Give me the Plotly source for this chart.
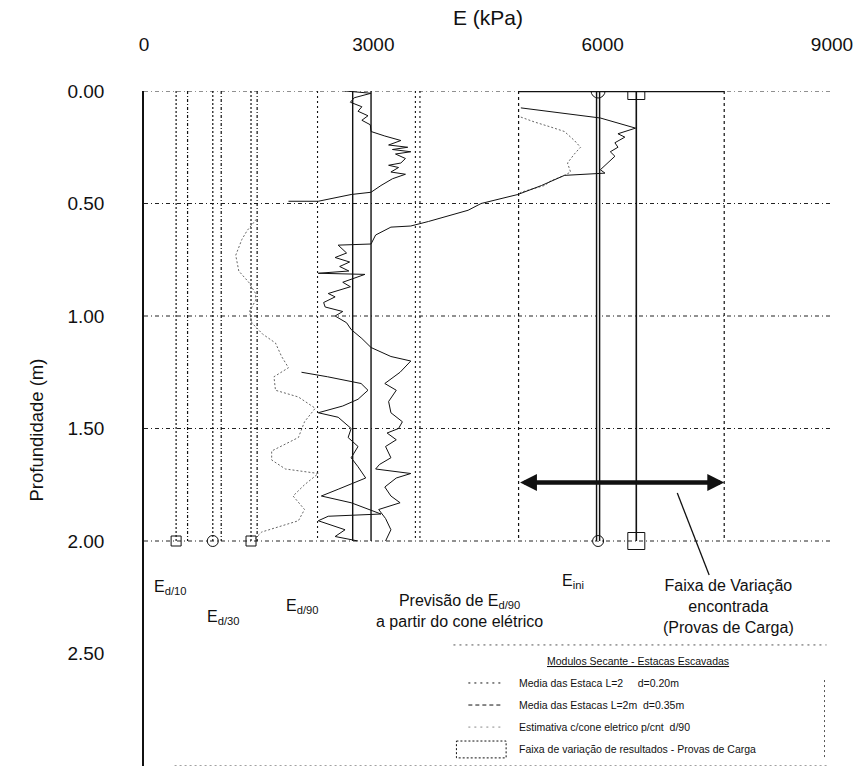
import plotly.graph_objects as go

FONT = "Liberation Sans, Arial, Helvetica, sans-serif"

# ---- axes -------------------------------------------------------------
E_TICKS = [0, 3000, 6000, 9000]
DEPTH_TICKS = [0.0, 0.5, 1.0, 1.5, 2.0, 2.5, 3.0]
GRID_DEPTHS = [0.0, 0.5, 1.0, 1.5, 2.0]
E_MAX = 9000
DEPTH_MAX = 3.0
PILE_LENGTH = 2.0

# ---- mean secant moduli of the bored piles (kPa): Ed/10, Ed/30, Ed/90, Eini
pile_d020 = [420, 900, 1400, 5940]
pile_d035 = [570, 1010, 1480, 6440]

# ---- Ed/90 predicted from the electric cone (kPa)
cone_mean = [2730, 2970]
cone_band = [2270, 3550, 3610]

# ---- range found in the load tests (kPa)
load_test_range = [4900, 7590]
load_test_depth = 1.74

# ---- cone profiles (depth in m, modulus in kPa)
cptA_depth = [0.00, 0.01, 0.03, 0.05, 0.07, 0.09, 0.11, 0.13, 0.15, 0.18, 0.20,
              0.22, 0.24, 0.25, 0.26, 0.27, 0.28, 0.30, 0.32, 0.33, 0.34, 0.36,
              0.37, 0.39, 0.42, 0.45, 0.46, 0.49, 0.49]
cptA_E = [2630, 2970, 2750, 2700, 2850, 2800, 2930, 2850, 2960, 2970, 3150,
          3360, 3200, 3450, 3250, 3490, 3290, 3420, 3360, 3200, 3330, 3230,
          3420, 3250, 3100, 2970, 2710, 2280, 1890]

cptB_depth = [0.075, 0.12, 0.165, 0.19, 0.205, 0.23, 0.25, 0.27, 0.29, 0.32,
              0.35, 0.365, 0.375, 0.42, 0.46, 0.50, 0.53, 0.58, 0.59, 0.60,
              0.605, 0.64, 0.68, 0.685, 0.72, 0.74, 0.76, 0.78, 0.80, 0.81,
              0.815, 0.85, 0.87, 0.90, 0.915, 0.94, 0.96, 0.98, 1.00, 1.03,
              1.06, 1.10, 1.14, 1.16, 1.18, 1.20, 1.25, 1.30, 1.33, 1.38,
              1.43, 1.47, 1.50, 1.52, 1.55, 1.58, 1.63, 1.66, 1.68, 1.70,
              1.72, 1.76, 1.80, 1.83, 1.86, 1.90, 1.95, 2.00]
cptB_E = [4930, 5970, 6430, 6200, 6290, 6160, 6200, 6100, 6160, 6070,
          5970, 6030, 5500, 5200, 4890, 4410, 4240, 3720, 3590, 3490,
          3230, 3030, 2970, 2540, 2650, 2500, 2690, 2560, 2680, 2280,
          2890, 2600, 2700, 2410, 2500, 2350, 2370, 2600, 2500, 2650,
          2710, 2850, 2970, 3100, 3230, 3490, 3350, 3150, 3300, 3200,
          3230, 3380, 3330, 3180, 3300, 3160, 3230, 3080, 3030, 3490,
          3300, 3150, 3230, 3350, 3070, 3160, 3230, 3160]

cptC_depth = [1.25, 1.27, 1.30, 1.33, 1.37, 1.40, 1.43, 1.45, 1.50, 1.54, 1.58,
              1.63, 1.67, 1.72, 1.77, 1.80, 1.83, 1.88, 1.89, 1.91, 1.95, 1.98,
              2.00]
cptC_E = [2060, 2400, 2840, 2930, 2800, 2600, 2280, 2540, 2710, 2670, 2800,
          2710, 2800, 2900, 2540, 2320, 2710, 3100, 2410, 2280, 2630, 2500,
          2800]

# light profile, two separate stretches (None = gap)
cptD_depth = [0.116, 0.138, 0.16, 0.18, 0.22, 0.25, 0.28, 0.30, 0.32, 0.36,
              0.375, 0.40, 0.42, 0.45, 0.46, None,
              0.57, 0.62, 0.66, 0.73, 0.80, 0.85, 0.90, 0.93, 0.98, 1.03,
              1.08, 1.12, 1.18, 1.23, 1.27, 1.33, 1.36, 1.41, 1.47, 1.54,
              1.60, 1.64, 1.68, 1.70, 1.75, 1.80, 1.86, 1.91, 1.96, 1.99]
cptD_E = [4930, 5110, 5320, 5500, 5630, 5710, 5630, 5580, 5540, 5580,
          5500, 5320, 5240, 4930, 4890, None,
          1470, 1350, 1280, 1200, 1240, 1370, 1460, 1460, 1380, 1410,
          1550, 1720, 1800, 1890, 1700, 1720, 2020, 2240, 2100, 2020,
          1670, 1670, 1850, 2280, 2100, 1950, 2100, 2020, 1540, 1450]

INK = "#111111"


def vlines(xs, y0, y1):
    x, y = [], []
    for v in xs:
        x += [v, v, None]
        y += [y0, y1, None]
    return x, y


def hlines(ys, x0, x1):
    x, y = [], []
    for v in ys:
        x += [x0, x1, None]
        y += [v, v, None]
    return x, y


fig = go.Figure()


def add_line(x, y, color=INK, width=1.0, dash="solid"):
    fig.add_trace(go.Scatter(x=x, y=y, mode="lines", hoverinfo="skip",
                             line=dict(color=color, width=width, dash=dash),
                             showlegend=False, connectgaps=False))


# horizontal reference lines
gx, gy = hlines(GRID_DEPTHS, 0, E_MAX)
add_line(gx, gy, color="#222222", width=1.0, dash="4px,3px,1px,3px")
gx, gy = hlines([DEPTH_MAX], 400, 8930)
add_line(gx, gy, color="#444444", width=1.0, dash="2px,3px")

# mean pile moduli (Ed/10, Ed/30, Ed/90 dotted; Eini solid)
vx, vy = vlines(pile_d020[:3], 0, PILE_LENGTH)
add_line(vx, vy, width=1.2, dash="2px,2px")
vx, vy = vlines(pile_d035[:3], 0, PILE_LENGTH)
add_line(vx, vy, width=1.2, dash="3px,2px,1px,2px")
vx, vy = vlines(pile_d020[3:], 0, PILE_LENGTH)
add_line(vx, vy, width=4.5)
add_line(vx, vy, color="white", width=1.6)
vx, vy = vlines(pile_d035[3:], 0, PILE_LENGTH)
add_line(vx, vy, width=1.6)

# cone prediction: mean lines and band
vx, vy = vlines(cone_mean, 0, PILE_LENGTH)
add_line(vx, vy, width=1.4)
vx, vy = vlines(cone_band, 0, PILE_LENGTH)
add_line(vx, vy, width=1.1, dash="2px,3px")

# load-test range box
vx, vy = vlines(load_test_range, 0, PILE_LENGTH)
add_line(vx, vy, width=1.2, dash="3px,3px")
add_line(load_test_range, [0, 0], width=2.4)

# cone profiles
add_line(cptD_E, cptD_depth, color="#666666", width=1.0, dash="2px,2px")
add_line(cptA_E, cptA_depth, width=1.0)
add_line(cptB_E, cptB_depth, width=1.0)
add_line(cptC_E, cptC_depth, width=1.0)

# end markers on the mean lines
sq_x = [pile_d020[0], pile_d020[2]]
fig.add_trace(go.Scatter(x=sq_x, y=[PILE_LENGTH] * len(sq_x), mode="markers",
                         marker=dict(symbol="square-open", size=10,
                                     color=INK, line=dict(width=1)),
                         hoverinfo="skip", showlegend=False))
fig.add_trace(go.Scatter(x=[pile_d020[1], pile_d020[3]],
                         y=[PILE_LENGTH, PILE_LENGTH], mode="markers",
                         marker=dict(symbol="circle-open", size=11,
                                     color=INK, line=dict(width=1)),
                         hoverinfo="skip", showlegend=False))
fig.add_trace(go.Scatter(x=[pile_d020[3]], y=[0.0], mode="markers",
                         marker=dict(symbol="circle-open", size=14,
                                     color=INK, line=dict(width=1)),
                         hoverinfo="skip", showlegend=False))
fig.add_trace(go.Scatter(x=[pile_d035[3], pile_d035[3]], y=[0.0, PILE_LENGTH],
                         mode="markers",
                         marker=dict(symbol="square-open", size=17,
                                     color=INK, line=dict(width=1)),
                         hoverinfo="skip", showlegend=False))

annotations = []
shapes = []

# load-test range arrow
annotations.append(dict(x=load_test_range[1], y=load_test_depth,
                        ax=load_test_range[0], ay=load_test_depth,
                        xref="x", yref="y", axref="x", ayref="y",
                        text="", showarrow=True, arrowhead=2,
                        arrowside="end+start", arrowsize=0.75,
                        arrowwidth=4.5, arrowcolor=INK, standoff=0,
                        startstandoff=0))
shapes.append(dict(type="line", xref="x", yref="y", x0=6976, y0=1.787,
                   x1=7393, y1=2.151, line=dict(color=INK, width=1.3)))

lab_font = dict(family=FONT, size=16, color=INK)
annotations += [
    dict(x=104, y=2.205, text="E<sub>d/10</sub>", xanchor="left"),
    dict(x=794, y=2.338, text="E<sub>d/30</sub>", xanchor="left"),
    dict(x=1835, y=2.293, text="E<sub>d/90</sub>", xanchor="left"),
    dict(x=4126, y=2.313,
         text="Previsão de E<sub>d/90</sub><br>a partir do cone elétrico",
         xanchor="center"),
    dict(x=5440, y=2.182, text="E<sub>ini</sub>", xanchor="left"),
    dict(x=7640, y=2.293,
         text="Faixa de Variação<br>encontrada<br>(Provas de Carga)",
         xanchor="center"),
]
for a in annotations[-6:]:
    a.update(xref="x", yref="y", showarrow=False, font=lab_font,
             yanchor="middle")

# legend block
leg_font = dict(family=FONT, size=10.5, color=INK)
leg_rows = [2.631, 2.729, 2.827, 2.924]
leg_text = ["Media das Estaca L=2\u00a0\u00a0\u00a0\u00a0 d=0.20m",
            "Media das Estacas L=2m\u00a0 d=0.35m",
            "Estimativa c/cone eletrico p/cnt\u00a0 d/90",
            "Faixa de variação de resultados - Provas de Carga"]
annotations.append(dict(x=6468, y=2.533, xref="x", yref="y",
                        text="<u>Modulos Secante - Estacas Escavadas</u>",
                        showarrow=False, font=leg_font, xanchor="center",
                        yanchor="middle"))
for yy, tt in zip(leg_rows, leg_text):
    annotations.append(dict(x=4881, y=yy, xref="x", yref="y", text=tt,
                            showarrow=False, font=leg_font, xanchor="left",
                            yanchor="middle"))
leg_styles = [("2px,4px", INK), ("4px,3px", INK), ("2px,4px", "#888888")]
for yy, (dsh, col) in zip(leg_rows[:3], leg_styles):
    shapes.append(dict(type="line", xref="x", yref="y", x0=4243, x1=4698,
                       y0=yy, y1=yy, line=dict(color=col, width=1, dash=dsh)))
shapes.append(dict(type="rect", xref="x", yref="y", x0=4087, x1=4737,
                   y0=2.889, y1=2.964,
                   line=dict(color=INK, width=1, dash="2px,2px")))
shapes.append(dict(type="line", xref="x", yref="y", x0=4048, x1=8928,
                   y0=2.462, y1=2.462,
                   line=dict(color="#555555", width=1, dash="2px,4px")))
shapes.append(dict(type="line", xref="x", yref="y", x0=8902, x1=8902,
                   y0=2.618, y1=2.973,
                   line=dict(color="#555555", width=1, dash="2px,3px")))

# axis titles
annotations.append(dict(x=0.5, y=1.1096, xref="paper", yref="paper",
                        text="E (kPa)", showarrow=False,
                        font=dict(family=FONT, size=21, color=INK),
                        xanchor="center", yanchor="middle"))
annotations.append(dict(x=-0.156, y=0.498, xref="paper", yref="paper",
                        text="Profundidade (m)", textangle=-90,
                        showarrow=False,
                        font=dict(family=FONT, size=18.5, color=INK),
                        xanchor="center", yanchor="middle"))

fig.update_layout(
    width=860, height=773,
    margin=dict(l=144, r=24, t=91, b=7),
    paper_bgcolor="white", plot_bgcolor="white",
    font=dict(family=FONT, color=INK),
    showlegend=False,
    annotations=annotations,
    shapes=shapes,
    xaxis=dict(range=[0, E_MAX], side="top", tickvals=E_TICKS,
               tickformat="d", showgrid=False, zeroline=False,
               showline=False, ticks="", ticklabelstandoff=35,
               tickfont=dict(family=FONT, size=19, color=INK)),
    yaxis=dict(range=[DEPTH_MAX, 0], tickvals=DEPTH_TICKS, tickformat=".2f",
               showgrid=False, zeroline=False, showline=True,
               linecolor=INK, linewidth=1.6, ticks="",
               ticklabelstandoff=34,
               tickfont=dict(family=FONT, size=19, color=INK)),
)

fig.write_html("out.html")
